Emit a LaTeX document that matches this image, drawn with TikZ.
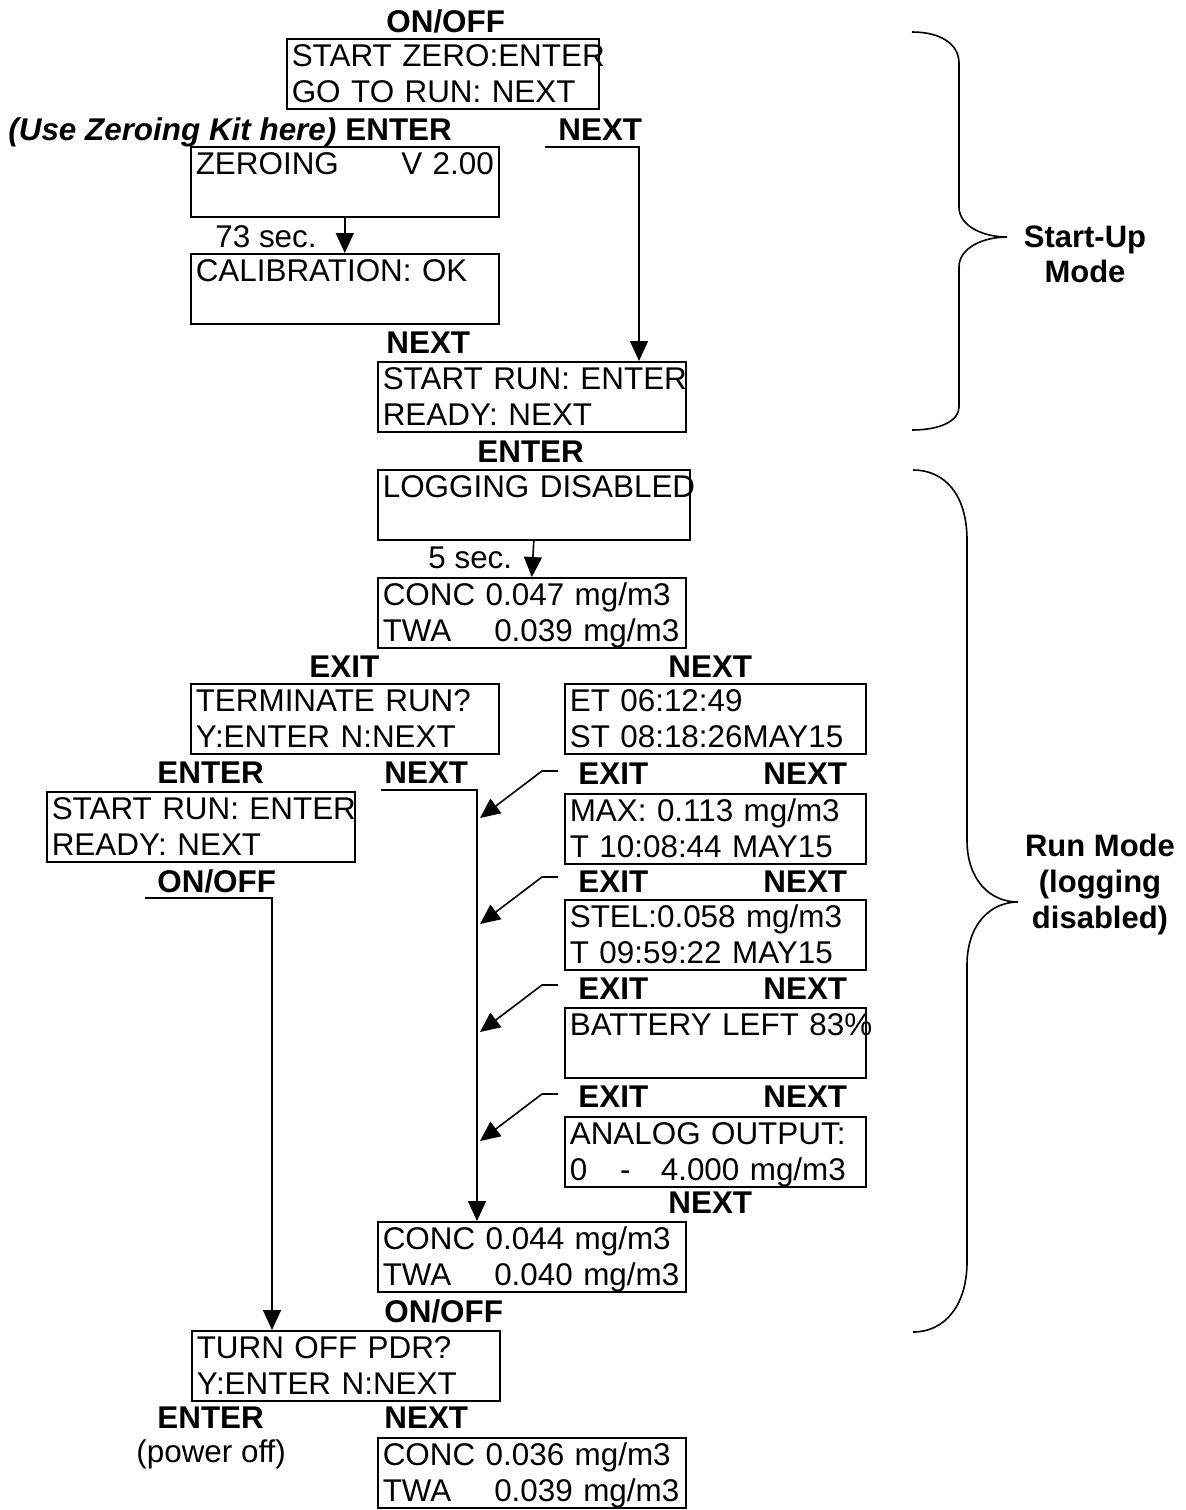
\documentclass[tikz,border=0pt]{standalone}
\usepackage{fontspec}
\setmainfont{Liberation Sans}
\usetikzlibrary{arrows.meta,calc}

\newcommand\lcdsize{\fontsize{15.7}{18}\selectfont}
\newcommand\twa[1]{\makebox[3.55em][l]{TWA}#1}

\tikzset{
    disp/.style={draw, line width=0.8pt, anchor=north west, inner xsep=2.5pt, inner ysep=0pt,
        text width=#1, align=left, text height=13.8pt, text depth=21.2pt, font=\lcdsize},
    disp/.default=149pt,
    key/.style={anchor=base west, inner sep=0pt, font=\lcdsize\bfseries},
    plain/.style={anchor=base west, inner sep=0pt, font=\lcdsize},
    flow/.style={line width=0.8pt, -{Triangle[length=10pt,width=9pt]}},
    brace/.style={line width=0.8pt},
    modelabel/.style={anchor=north, inner sep=0pt, align=center, font=\fontsize{15.5}{17.5}\selectfont\bfseries}
}

\begin{document}
\begin{tikzpicture}[x=0.5pt,y=-0.5pt]
            \useasboundingbox (0,0) rectangle (1186,1510);
            % start-up mode
            \node[key] (onoff1) at (386,32) {ON/OFF};
            \node[disp=151pt] (gozero) at (286,38) {\mbox{START ZERO:ENTER}\\\mbox{GO TO RUN: NEXT}};
            \node[key, font=\lcdsize\bfseries\itshape] (kit) at (8,140) {(Use Zeroing Kit here)};
            \node[key] (enter1) at (345,140) {ENTER};
            \node[key] (next1) at (558,140) {NEXT};
            \node[disp] (zeroing) at (190,146) {ZEROING\hspace{0pt plus 1filll}V 2.00\hspace{2pt}};
            \node[plain] (t73) at (215,247) {73 sec.};
            \node[disp] (calib) at (190,253) {CALIBRATION: OK};
            \node[key] (next2) at (386,353) {NEXT};
            \node[disp] (startrun) at (377,361) {\mbox{START RUN: ENTER}\\READY: NEXT};
            \node[key] (enter2) at (477,462) {ENTER};
            % run mode
            \node[disp=151pt] (logging) at (377,469) {\mbox{LOGGING DISABLED}};
            \node[plain] (t5) at (428,568) {5 sec.};
            \node[disp] (conc1) at (377,577) {CONC 0.047 mg/m3\\\twa{0.039 mg/m3}};
            \node[key] (exit1) at (309,677) {EXIT};
            \node[key] (next3) at (668,677) {NEXT};
            \node[disp] (term) at (190,683) {TERMINATE RUN?\\Y:ENTER N:NEXT};
            \node[disp=145.5pt] (et) at (564,683) {ET 06:12:49\\ST 08:18:26MAY15};
            \node[key] (enter3) at (157,783) {ENTER};
            \node[key] (next4) at (384,783) {NEXT};
            \node[disp] (startrun2) at (46,791) {\mbox{START RUN: ENTER}\\READY: NEXT};
            \node[key] (onoff2) at (157,892) {ON/OFF};
            \node[disp=145.5pt] (max) at (564,793) {MAX: 0.113 mg/m3\\T 10:08:44 MAY15};
            \node[disp=145.5pt] (stel) at (564,899) {STEL:0.058 mg/m3\\T 09:59:22 MAY15};
            \node[disp=145.5pt] (battery) at (564,1007) {\mbox{BATTERY LEFT 83\%}};
            \node[disp=145.5pt] (analog) at (564,1116) {ANALOG OUTPUT:\\\makebox[1.6em][l]{0}\makebox[1.3em][l]{-}4.000 mg/m3};
            \foreach \y [count=\i] in {784,892,999,1107} {
                \node[key] (exitr\i) at (578,\y) {EXIT};
                \node[key] (nextr\i) at (763,\y) {NEXT};
            }
            \node[key] (next5) at (668,1213) {NEXT};
            \node[disp] (conc2) at (377,1221) {CONC 0.044 mg/m3\\\twa{0.040 mg/m3}};
            \node[key] (onoff3) at (384,1322) {ON/OFF};
            \node[disp] (turnoff) at (191,1330) {TURN OFF PDR?\\Y:ENTER N:NEXT};
            \node[key] (enter4) at (157,1428) {ENTER};
            \node[key] (next6) at (384,1428) {NEXT};
            \node[plain] (poweroff) at (136,1462) {(power off)};
            \node[disp] (conc3) at (377,1437) {CONC 0.036 mg/m3\\\twa{0.039 mg/m3}};

            % connectors
            \coordinate (nx1) at (545,147);
            \coordinate (nx2) at (381,790);
            \coordinate (off1) at (145,898);
            \draw[flow] (zeroing.south) -- (calib.north);
            \draw[flow] (nx1) -| (639,0 |- startrun.north);
            \draw[flow] (logging.south) -- (conc1.north);
            \draw[flow] (nx2) -| (477,0 |- conc2.north);
            \draw[flow] (off1) -| (272,0 |- turnoff.north);
            \foreach \b in {max,stel,battery,analog}
                \draw[flow] ($(\b.north west)+(-6,-22)$) -- ++(-16,0) -- ++(-62,47);

            % braces
            \draw[brace] (912,32) .. controls (942,32) and (959,45) .. (959,63) -- (959,207)
                .. controls (959,226) and (983,237) .. (1007,237)
                .. controls (983,237) and (959,248) .. (959,267) -- (959,407)
                .. controls (959,420) and (942,430) .. (912,430);
            \draw[brace] (913,470) .. controls (945,470) and (967,495) .. (967,540) -- (967,840)
                .. controls (967,880) and (990,902) .. (1018,902)
                .. controls (990,902) and (967,925) .. (967,965) -- (967,1262)
                .. controls (967,1305) and (945,1332) .. (913,1332);
            \node[modelabel] (startup) at (1085,225) {Start-Up\\Mode};
            \node[modelabel, font=\fontsize{15.5}{18}\selectfont\bfseries] (runmode) at (1100,834) {Run Mode\\(logging\\disabled)};
        \end{tikzpicture}
\end{document}
